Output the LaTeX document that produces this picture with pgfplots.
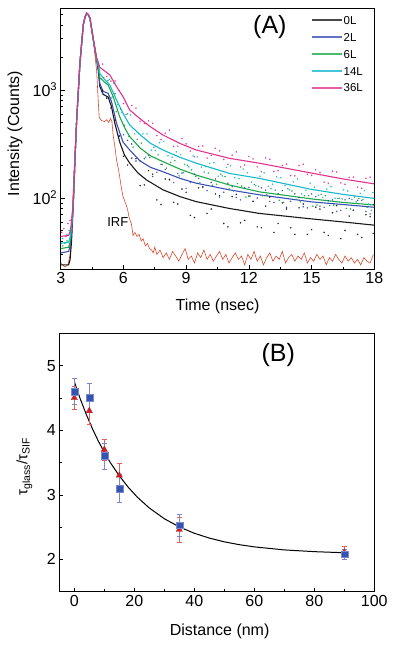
\documentclass[border=0pt]{standalone}
\usepackage{fontspec}
\setmainfont{Liberation Sans}
\usepackage{pgfplots}
\pgfplotsset{compat=1.18}
\definecolor{cBlack}{HTML}{1A1A1A}
\definecolor{cBlue}{HTML}{3A4FB5}
\definecolor{cGreen}{HTML}{1FA84A}
\definecolor{cCyan}{HTML}{16B8CC}
\definecolor{cPink}{HTML}{E0338F}
\definecolor{cIRF}{HTML}{D64A2F}
\definecolor{sqFill}{HTML}{3355B0}
\definecolor{sqErr}{HTML}{7B86CC}
\definecolor{triFill}{HTML}{C8202A}
\definecolor{triErr}{HTML}{E06060}
\pgfplotsset{
  dots/.style={only marks, mark=*, mark size=0.55pt, forget plot, opacity=0.85},
}
\begin{document}
\begin{tikzpicture}
\useasboundingbox (0pt,0pt) rectangle (401pt,-647pt);
% ---------------- Panel A ----------------
\begin{axis}[
  at={(60.7pt,-269pt)}, anchor=south west,
  scale only axis, width=313.6pt, height=260.7pt,
  ymode=log, xmin=3, xmax=18, ymin=22, ymax=5700,
  xtick={3,6,9,12,15,18}, minor x tick num=1,
  ytick={100,1000}, yticklabels={10\textsuperscript{2},10\textsuperscript{3}},
  minor ytick={30,40,50,60,70,80,90,200,300,400,500,600,700,800,900,2000,3000,4000,5000},
  tick align=inside, xtick pos=bottom, ytick pos=left,
  major tick length=4pt, minor tick length=2.5pt,
  tick style={black, line width=0.6pt},
  axis line style={line width=0.8pt},
  /pgf/number format/assume math mode=true,
  ticklabel style={font=\fontsize{16}{16}\selectfont},
  label style={font=\fontsize{16}{16}\selectfont},
  xlabel={Time (nsec)}, ylabel={Intensity (Counts)},
  xlabel style={at={(axis description cs:0.5,-0.145)}, anchor=center},
  ylabel style={at={(axis description cs:-0.146,0.52)}, anchor=center},
  legend style={at={(axis description cs:0.798,0.975)}, anchor=north west,
    draw=none, fill=none, inner sep=0pt, row sep=6.6pt,
    font=\fontsize{11.5}{12}\selectfont,
    nodes={inner sep=1pt, text height=8.3pt, text depth=0pt}},
  legend cell align=left,
  legend image code/.code={\draw[#1, line width=1.5pt, opacity=0.8] (0pt,0pt) -- (30pt,0pt);},
]
% scattered data points
\addplot[dots, color=cPink] coordinates {
(3.05,48)(3.15,52)(3.25,44)(3.35,58)(3.45,62)
(5.0,1736)(5.4,1206)(5.8,986)(6.2,602)(6.6,679)(7.0,489)(7.4,491)(7.8,348)(8.2,425)(8.6,302)(9.0,317)
(9.4,240)(9.8,303)(10.2,248)(10.6,273)(11.0,205)(11.4,267)(11.8,202)(12.2,230)(12.6,175)(13.0,228)
(13.4,179)(13.8,206)(14.2,160)(14.6,205)(15.0,162)(15.4,172)(15.8,137)(16.2,174)(16.6,134)(17.0,156)
(17.4,123)(17.8,156)
(5.2,1334)(5.6,1210)(6.0,748)(6.4,717)(6.8,513)(7.2,517)(7.6,378)(8.0,398)(8.4,300)(8.8,356)(9.2,272)
(9.6,300)(10.0,234)(10.4,288)(10.8,227)(11.2,249)(11.6,194)(12.0,242)(12.4,194)(12.8,235)(13.2,176)
(13.6,200)(14.0,161)(14.4,199)(14.8,165)(15.2,182)(15.6,140)(16.0,177)(16.4,138)(16.8,155)(17.2,126)(17.6,152)};
\addplot[dots, color=cCyan] coordinates {
(3.1,42)(3.2,38)(3.3,46)(3.4,50)
(5.13,1170)(5.53,1155)(5.93,619)(6.33,587)(6.73,395)(7.13,392)(7.53,275)(7.93,334)(8.33,239)(8.73,252)
(9.13,194)(9.53,240)(9.93,195)(10.33,212)(10.73,160)(11.13,198)(11.53,151)(11.93,171)(12.33,130)
(12.73,171)(13.13,134)(13.53,154)(13.93,119)(14.33,150)(14.73,118)(15.13,126)(15.53,101)(15.93,127)
(16.33,99)(16.73,116)(17.13,92)(17.53,117)(17.93,112)
(5.33,1254)(5.73,732)(6.13,594)(6.53,392)(6.93,392)(7.33,277)(7.73,325)(8.13,246)(8.53,267)(8.93,205)
(9.33,245)(9.73,193)(10.13,209)(10.53,159)(10.93,192)(11.33,154)(11.73,185)(12.13,140)(12.53,159)
(12.93,128)(13.33,157)(13.73,130)(14.13,141)(14.53,109)(14.93,137)(15.33,106)(15.73,121)(16.13,99)
(16.53,119)(16.93,97)(17.33,110)(17.73,88)};
\addplot[dots, color=cGreen] coordinates {
(3.1,36)(3.3,40)
(5.06,1293)(5.46,860)(5.86,667)(6.26,371)(6.66,349)(7.06,238)(7.46,295)(7.86,204)(8.26,213)(8.66,160)
(9.06,201)(9.46,158)(9.86,174)(10.26,131)(10.66,166)(11.06,121)(11.46,136)(11.86,102)(12.26,133)
(12.66,105)(13.06,122)(13.46,95)(13.86,122)(14.26,97)(14.66,105)(15.06,84)(15.46,108)(15.86,85)
(16.26,99)(16.66,80)(17.06,102)(17.46,97)(17.86,77)
(5.26,1227)(5.66,630)(6.06,472)(6.46,296)(6.86,322)(7.26,237)(7.66,251)(8.06,189)(8.46,222)(8.86,172)
(9.26,182)(9.66,138)(10.06,170)(10.46,134)(10.86,158)(11.26,116)(11.66,129)(12.06,104)(12.46,128)
(12.86,107)(13.26,118)(13.66,91)(14.06,116)(14.46,92)(14.86,105)(15.26,86)(15.66,105)(16.06,86)
(16.46,98)(16.86,79)(17.26,99)(17.66,82)};
\addplot[dots, color=cBlue] coordinates {
(5.2,843)(5.6,920)(6.0,385)(6.4,316)(6.8,220)(7.2,248)(7.6,173)(8.0,184)(8.4,139)(8.8,170)(9.2,139)
(9.6,152)(10.0,117)(10.4,150)(10.8,113)(11.2,127)(11.6,96)(12.0,125)(12.4,100)(12.8,118)(13.2,91)
(13.6,117)(14.0,93)(14.4,101)(14.8,81)(15.2,103)(15.6,82)(16.0,96)(16.4,77)(16.8,99)(17.2,95)(17.6,75)(17.95,87)
(5.0,931)(5.4,840)(5.8,377)(6.2,342)(6.6,220)(7.0,231)(7.4,158)(7.8,205)(8.2,147)(8.6,168)(9.0,123)
(9.4,166)(9.8,125)(10.2,139)(10.6,102)(11.0,137)(11.4,101)(11.8,124)(12.2,93)(12.6,124)(13.0,93)
(13.4,110)(13.8,82)(14.2,109)(14.6,83)(15.0,109)(15.4,84)(15.8,94)(16.2,75)(16.6,96)(17.0,77)(17.4,95)(17.8,71)};
\addplot[dots, color=cBlack] coordinates {
(5.0,983)(5.4,681)(5.8,374)(6.2,202)(6.6,231)(7.0,132)(7.4,166)(7.8,87)(8.2,149)(8.6,88)(9.0,113)
(9.4,66)(9.8,127)(10.2,79)(10.6,105)(11.0,54)(11.4,108)(11.8,62)(12.2,93)(12.6,53)(13.0,102)(13.4,58)
(13.8,79)(14.2,46)(14.6,88)(15.0,51)(15.4,79)(15.8,45)(16.2,85)(16.6,50)(17.0,77)(17.4,43)(17.8,67)
(5.2,836)(5.6,525)(6.0,243)(6.4,234)(6.8,130)(7.2,179)(7.6,96)(8.0,150)(8.4,91)(8.8,121)(9.2,69)
(9.6,124)(10.0,72)(10.4,109)(10.8,58)(11.2,103)(11.6,59)(12.0,104)(12.4,54)(12.8,84)(13.2,48)(13.6,90)
(14.0,53)(14.4,81)(14.8,46)(15.2,82)(15.6,48)(16.0,73)(16.4,42)(16.8,68)(17.2,46)(17.6,70)(17.95,47)};
% IRF
\addplot[color=cIRF, line width=0.6pt, forget plot] coordinates {
(3.0,25)(3.2,23)(3.35,24)(3.45,30)(3.55,70)(3.65,200)(3.76,520)(3.92,1800)(4.08,4100)(4.16,4800)(4.24,5200)
(4.32,5000)(4.40,4500)(4.55,3000)(4.65,2000)(4.72,1500)(4.78,900)(4.84,560)(4.95,520)(5.1,510)(5.2,530)
(5.3,500)(5.38,545)(5.45,510)(5.51,380)(5.59,300)(5.67,225)(5.75,190)(5.82,158)(5.9,125)(5.98,103)
(6.05,95)(6.14,85)(6.2,78)(6.28,65)(6.38,58)(6.46,45)(6.55,48)(6.65,44)(6.75,46)(6.85,40)(6.94,42)
(7.05,36)(7.15,38)(7.25,34)(7.35,33)(7.42,31)(7.5,35)
(7.60,30)(7.75,33)(7.90,28)(8.05,31)(8.20,27)(8.35,32)(8.50,29)(8.65,26)(8.80,30)(8.95,34)(9.10,27)
(9.25,29)(9.40,25)(9.55,31)(9.70,28)(9.85,33)(10.00,27)(10.15,30)(10.30,26)(10.45,29)(10.60,32)
(10.75,27)(10.90,30)(11.05,25)(11.20,28)(11.35,31)(11.50,27)(11.65,29)(11.80,24)(11.95,30)(12.10,27)
(12.25,32)(12.40,26)(12.55,29)(12.70,24)(12.85,28)(13.00,31)(13.15,26)(13.30,29)(13.45,27)(13.60,32)
(13.75,25)(13.90,28)(14.05,30)(14.20,26)(14.35,29)(14.50,27)(14.65,31)(14.80,25)(14.95,28)(15.10,26)
(15.25,30)(15.40,27)(15.55,29)(15.70,24)(15.85,28)(16.00,26)(16.15,30)(16.30,27)(16.45,25)(16.60,29)
(16.75,26)(16.90,28)(17.05,25)(17.20,27)(17.35,24)(17.50,28)(17.65,26)(17.80,25)(17.95,30)};
% fitted curves
\addplot[color=cBlack, line width=1.1pt] coordinates {
(3.0,24)(3.38,24)(3.45,27)(3.52,40)(3.6,86)(3.68,220)(3.76,509)(3.92,1770)(4.08,4000)(4.16,4700)(4.24,5100)
(4.32,4950)(4.40,4600)(4.55,3000)(4.71,1960)(4.80,1500)(4.87,1080)(5.03,910)(5.27,860)(5.43,700)
(5.59,492)(5.82,330)(6.05,250)(6.30,210)(6.7,170)(7.1,147)(7.89,119)(8.7,103)(9.48,92.5)(11.06,80)
(12.49,72)(15,64)(16.5,60)(18,56)};
\addlegendentry{0L}
\addplot[color=cBlue, line width=1.1pt] coordinates {
(3.0,31)(3.38,32)(3.45,36)(3.52,48)(3.6,86)(3.68,220)(3.76,509)(3.92,1770)(4.08,4000)(4.16,4700)(4.24,5100)
(4.32,4950)(4.40,4600)(4.55,3000)(4.71,1960)(4.80,1600)(4.87,1150)(5.03,970)(5.27,930)(5.43,780)
(5.67,492)(5.98,330)(6.30,278)(6.8,220)(7.3,192)(7.89,175)(8.7,152)(9.48,137)(11.06,119)(12.49,107)
(15,92)(16.5,87)(18,82)};
\addlegendentry{2L}
\addplot[color=cGreen, line width=1.1pt] coordinates {
(3.0,34)(3.38,35)(3.45,39)(3.52,52)(3.6,88)(3.68,220)(3.76,509)(3.92,1770)(4.08,4000)(4.16,4700)(4.24,5100)
(4.32,4950)(4.40,4600)(4.55,3000)(4.71,1960)(4.80,1650)(4.87,1300)(5.1,1180)(5.27,1112)(5.51,867)
(5.82,566)(6.05,450)(6.30,370)(6.8,290)(7.3,245)(7.89,217)(8.7,185)(9.48,163)(11.06,132)(12.49,114)
(15,98)(16.5,91)(18,86)};
\addlegendentry{6L}
\addplot[color=cCyan, line width=1.1pt] coordinates {
(3.0,38)(3.38,39)(3.45,43)(3.52,56)(3.6,90)(3.68,220)(3.76,509)(3.92,1770)(4.08,4000)(4.16,4700)(4.24,5100)
(4.32,4950)(4.40,4600)(4.55,3000)(4.71,1960)(4.80,1750)(4.87,1420)(5.1,1250)(5.35,1112)(5.67,808)
(5.98,608)(6.30,474)(6.8,385)(7.3,320)(7.89,278)(8.7,238)(9.48,210)(11.06,169)(12.49,152)(15,120)
(16.5,108)(18,99)};
\addlegendentry{14L}
\addplot[color=cPink, line width=1.1pt] coordinates {
(3.0,44)(3.38,45)(3.45,49)(3.52,60)(3.6,92)(3.68,220)(3.76,509)(3.92,1770)(4.08,4000)(4.16,4700)(4.24,5150)
(4.32,5000)(4.40,4650)(4.55,3050)(4.71,2000)(4.80,1800)(4.87,1620)(5.1,1500)(5.35,1376)(5.67,1073)
(5.98,867)(6.30,653)(6.8,540)(7.3,455)(7.89,383)(8.7,320)(9.48,278)(11.06,233)(12.49,210)(15,170)
(16.5,150)(18,135)};
\addlegendentry{36L}
\node[font=\fontsize{25}{25}\selectfont] at (rel axis cs:0.667,0.929) {(A)};
\node[font=\fontsize{13}{13}\selectfont] at (axis cs:5.73,60) {IRF};
\end{axis}
% ---------------- Panel B ----------------
\begin{axis}[
  at={(59.3pt,-591.7pt)}, anchor=south west,
  scale only axis, width=315pt, height=258.4pt,
  xmin=-5, xmax=100, ymin=1.5, ymax=5.5,
  xtick={0,20,40,60,80,100}, minor x tick num=1,
  ytick={2,3,4,5}, minor y tick num=1,
  tick align=inside, xtick pos=bottom, ytick pos=left,
  major tick length=4pt, minor tick length=2.5pt,
  tick style={black, line width=0.6pt},
  axis line style={line width=0.8pt},
  /pgf/number format/assume math mode=true,
  ticklabel style={font=\fontsize{16}{16}\selectfont},
  label style={font=\fontsize{16}{16}\selectfont},
  xlabel={Distance (nm)},
  ylabel={\fontsize{15}{15}\selectfont τ\textsubscript{glass}/τ\textsubscript{SIF}},
  xlabel style={at={(axis description cs:0.509,-0.155)}, anchor=center},
  ylabel style={at={(axis description cs:-0.111,0.484)}, anchor=center},
]
\addplot[color=black, line width=1pt] coordinates {
(0,4.75)(2,4.483)(4,4.243)(6,4.027)(8,3.832)(10,3.658)(12,3.500)(15,3.293)(18,3.116)(21,2.964)
(25,2.796)(30,2.630)(35,2.503)(40,2.405)(45,2.330)(50,2.272)(55,2.228)(60,2.194)(70,2.147)(80,2.120)(90,2.103)};
\addplot[only marks, mark=triangle*, mark size=3.6pt, color=triErr, mark options={fill=triFill, draw=triFill},
  error bars/.cd, y dir=both, y explicit,
  error bar style={color=triErr, line width=0.6pt},
  error mark options={rotate=90, mark size=2.6pt, color=triErr}]
  coordinates {
(0,4.50) +- (0,0.18)
(5,4.30) +- (0,0.20)
(10,3.70) +- (0,0.16)
(15,3.30) +- (0,0.19)
(35,2.46) +- (0,0.19)
(90,2.11) +- (0,0.10)};
\addplot[only marks, mark=square*, mark size=3.4pt, color=sqErr, mark options={fill=sqFill, draw=sqErr},
  error bars/.cd, y dir=both, y explicit,
  error bar style={color=sqErr, line width=0.6pt},
  error mark options={rotate=90, mark size=2.6pt, color=sqErr}]
  coordinates {
(0,4.60) +- (0,0.20)
(5,4.50) +- (0,0.22)
(10,3.60) +- (0,0.20)
(15,3.10) +- (0,0.22)
(35,2.53) +- (0,0.17)
(90,2.08) +- (0,0.08)};
\node[font=\fontsize{25}{25}\selectfont] at (rel axis cs:0.695,0.915) {(B)};
\end{axis}
\end{tikzpicture}
\end{document}
